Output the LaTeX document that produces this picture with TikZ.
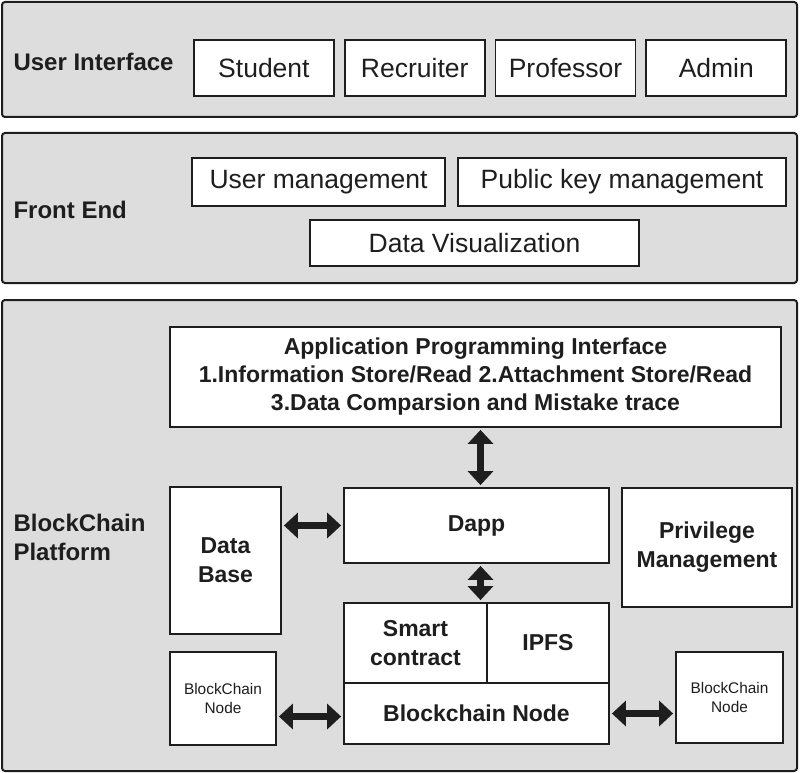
\documentclass[tikz,border=0pt]{standalone}
\usepackage{fontspec}
\setmainfont{Liberation Sans}
\usetikzlibrary{positioning}
\usetikzlibrary{arrows.meta}
\definecolor{panelgray}{RGB}{221,221,221}
\definecolor{ink}{RGB}{30,30,30}
\tikzset{
  layer/.style={draw=ink, line width=2pt, fill=panelgray, rounded corners=3pt},
  box/.style={draw=ink, line width=1.8pt, fill=white, inner sep=0pt, align=center, text=ink},
  title/.style={anchor=west, align=left, text=ink, font=\fontsize{24}{29}\selectfont\bfseries},
  big/.style={font=\fontsize{26.5}{30}\selectfont},
  strong/.style={font=\fontsize{23}{29}\selectfont\bfseries},
  small/.style={font=\fontsize{15.4}{18.5}\selectfont},
  dbl/.style={ink, line width=7pt, {Triangle[length=14pt,width=25pt]}-{Triangle[length=14pt,width=25pt]}, shorten <=2pt, shorten >=2pt}
}

\begin{document}
\begin{tikzpicture}[x=1pt, y=-1pt, node distance=9pt]
    \useasboundingbox (0,0) rectangle (800,773);
    % layers
    \draw[layer] (2,2) rectangle (797,117);
    \draw[layer] (2,133) rectangle (797,283);
    \draw[layer] (2,300) rectangle (797,771);
    \node[title] (ui) at (10,62) {User Interface};
    \node[title] (fe) at (10,210) {Front End};
    \node[title] (bp) at (10,537) {BlockChain\\Platform};

    % user interface
    \node[box, big, minimum width=140pt, minimum height=56pt, anchor=west] (student) at (193,68) {Student};
    \node[box, big, minimum width=140pt, minimum height=56pt, right=of student] (recruiter) {Recruiter};
    \node[box, big, minimum width=140pt, minimum height=56pt, right=of recruiter] (professor) {Professor};
    \node[box, big, minimum width=140pt, minimum height=56pt, right=of professor] (admin) {Admin};

    % front end
    \node[box, big, minimum width=253pt, minimum height=48pt] (usermgmt) at (318.5,182) {User management};
    \node[box, big, minimum width=328pt, minimum height=48pt] (keymgmt) at (622,182) {Public key management};
    \node[box, big, minimum width=329pt, minimum height=46pt] (dataviz) at (474.5,243) {Data Visualization};

    % blockchain platform
    \node[box, font=\fontsize{23}{28}\selectfont\bfseries, minimum width=611pt, minimum height=100pt] (api) at (475.5,377)
        {Application Programming Interface\\1.Information Store/Read 2.Attachment Store/Read\\3.Data Comparsion and Mistake trace};
    \node[box, strong, minimum width=265pt, minimum height=75pt] (dapp) at (476.5,525.5) {Dapp};
    \node[box, strong, minimum width=111pt, minimum height=147pt] (db) at (225.5,560.5) {Data\\Base};
    \node[box, strong, minimum width=170pt, minimum height=119pt] (priv) at (707,547.5) {Privilege\\Management};
    \node[box, strong, minimum width=143pt, minimum height=80pt] (smart) at (415.5,643) {Smart\\contract};
    \node[box, strong, minimum width=122pt, minimum height=80pt] (ipfs) at (548,643) {IPFS};
    \node[box, strong, minimum width=265pt, minimum height=61pt] (bcnode) at (476.5,713.5) {Blockchain Node};
    \node[box, small, minimum width=106pt, minimum height=93pt] (leftnode) at (223,698.5) {BlockChain\\Node};
    \node[box, small, minimum width=107pt, minimum height=91pt] (rightnode) at (729.5,697.5) {BlockChain\\Node};

    % links
    \draw[dbl] ([xshift=5pt]api.south) -- ([xshift=5pt]api.south |- dapp.north);
    \draw[dbl] ([xshift=4pt]dapp.south) -- ([xshift=4pt]dapp.south |- smart.north);
    \draw[dbl] (db.east |- dapp.west) -- (dapp.west);
    \draw[dbl] ([yshift=-3pt]leftnode.east |- bcnode.west) -- ([yshift=-3pt]bcnode.west);
    \draw[dbl] (bcnode.east) -- (bcnode.east -| rightnode.west);
\end{tikzpicture}
\end{document}
